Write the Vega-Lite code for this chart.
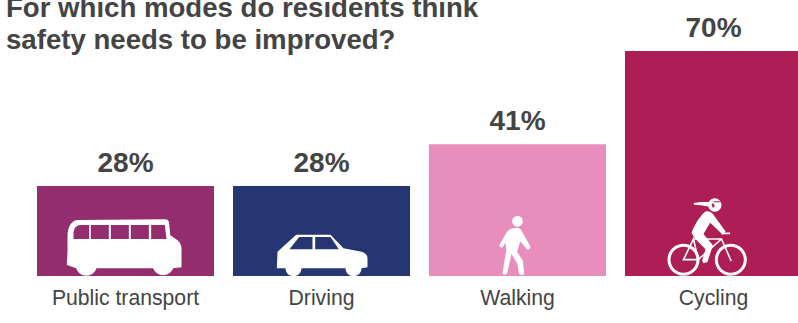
{
  "$schema": "https://vega.github.io/schema/vega-lite/v6.json",
  "autosize": "none",
  "width": 761,
  "height": 225,
  "padding": {"left": 37, "top": 51, "right": 0, "bottom": 47},
  "background": "white",
  "config": {"view": {"stroke": null}, "font": "Liberation Sans"},
  "title": {
    "text": ["For which modes do residents think", "safety needs to be improved?"],
    "anchor": "start",
    "frame": "group",
    "font": "Liberation Sans",
    "fontSize": 27.6,
    "fontWeight": "bold",
    "color": "#444444",
    "lineHeight": 32,
    "dx": -31,
    "offset": -40
  },
  "data": {
    "values": [
      {"mode": "Public transport", "share": 0.28},
      {"mode": "Driving", "share": 0.28},
      {"mode": "Walking", "share": 0.41},
      {"mode": "Cycling", "share": 0.70}
    ]
  },
  "encoding": {
    "x": {
      "field": "mode",
      "type": "nominal",
      "sort": null,
      "scale": {"range": [0, 765], "paddingInner": 0.0969, "paddingOuter": 0},
      "axis": {
        "title": null,
        "domain": false,
        "ticks": false,
        "labelAngle": 0,
        "labelFont": "Liberation Sans",
        "labelFontSize": 21.2,
        "labelColor": "#444444",
        "labelPadding": 11,
        "labelLimit": 0
      }
    }
  },
  "layer": [
    {
      "mark": {"type": "bar"},
      "encoding": {
        "y": {"field": "share", "type": "quantitative", "scale": {"domain": [0, 0.7], "nice": false}, "axis": null},
        "color": {
          "field": "mode",
          "type": "nominal",
          "sort": null,
          "scale": {
            "domain": ["Public transport", "Driving", "Walking", "Cycling"],
            "range": ["#932D6D", "#253673", "#E78EBC", "#AD1E54"]
          },
          "legend": null
        }
      }
    },
    {
      "mark": {"type": "text", "baseline": "alphabetic", "dy": -14, "font": "Liberation Sans", "fontSize": 28, "fontWeight": "bold", "color": "#444444"},
      "encoding": {
        "y": {"field": "share", "type": "quantitative"},
        "text": {"field": "share", "type": "quantitative", "format": ".0%"}
      }
    },
    {
      "mark": {"type": "point", "filled": true, "size": 0.4444, "color": "white", "opacity": 1, "strokeWidth": 0},
      "encoding": {
        "y": {"datum": 0, "type": "quantitative"},
        "shape": {
          "field": "mode",
          "type": "nominal",
          "sort": null,
          "legend": null,
          "scale": {
            "domain": ["Public transport", "Driving", "Walking", "Cycling"],
            "range": [
              "M-176 -33L-174 -78L-174 -118C-174 -150 -160 -168 -142 -168L118 -170C126 -170 131 -165 131 -158L134 -123L158 -106C164 -100 168 -92 168 -83L168 -26L143 -23A32 32 0 0 1 83 -23L-87 -23A32 32 0 0 1 -148 -23ZM-156 -111L-109 -111L-109 -153L-135 -153C-150 -153 -156 -140 -156 -125ZM-104 -111L-50 -111L-50 -153L-104 -153ZM-44 -111L10 -111L10 -153L-44 -153ZM16 -111L70 -111L70 -153L16 -153ZM77 -111L123 -111L118 -153L77 -153Z",
              "M-134 -23L-132 -73L-76 -124L27 -124L66 -83L120 -73C132 -70 138 -62 138 -53L138 -26L120 -23A24 24 0 0 1 72 -23L-60 -23A24 24 0 0 1 -108 -23ZM-96 -80L-27 -80L-27 -117L-67 -117ZM-19 -80L52 -80L27 -117L-19 -117Z",
              "M-16 -164A16 16 0 1 1 16 -164A16 16 0 1 1 -16 -164ZM-3 -145C8 -145 12 -138 14 -132L38 -90C40 -82 32 -76 28 -80L8 -104L-1 -72L16 -46L20 -8C20 -2 6 -1 4 -8L0 -36L-18 -66L-31 -8C-34 -3 -46 -4 -45 -10L-34 -76L-36 -100L-44 -87C-48 -82 -56 -88 -54 -94L-32 -132C-25 -142 -14 -145 -3 -145Z",
              "M-138 -49A48 48 0 1 1 -42 -49A48 48 0 1 1 -138 -49ZM-129 -49A39 39 0 1 0 -51 -49A39 39 0 1 0 -129 -49ZM4 -49A48 48 0 1 1 100 -49A48 48 0 1 1 4 -49ZM13 -49A39 39 0 1 0 91 -49A39 39 0 1 0 13 -49ZM-25 -193C-15 -196 -8 -192 -2 -186L36 -134L28 -124L-10 -160L-30 -126L-2 -92L-18 -42L-30 -38L-34 -46L-24 -80L-55 -112L-66 -130C-58 -150 -42 -180 -25 -193ZM-16 -213A20 20 0 1 1 24 -213A20 20 0 1 1 -16 -213ZM-6 -216L-2 -204L4 -210L-1 -218ZM0 -224L0 -221L22 -221L22 -224ZM-60 -219L-36 -222L-14 -222L-14 -208L-38 -212L-58 -214Z"
            ]
          }
        }
      }
    },
    {
      "transform": [{"filter": "datum.mode === 'Cycling'"}],
      "mark": {
        "type": "point",
        "filled": false,
        "size": 0.4444,
        "color": "white",
        "opacity": 1,
        "strokeWidth": 1.6,
        "shape": "M-90 -49L-60 -111L-46 -49ZM-46 -49L24 -111M-60 -111L24 -111L53 -45M24 -128L50 -128"
      },
      "encoding": {
        "y": {"datum": 0, "type": "quantitative"}
      }
    }
  ]
}
